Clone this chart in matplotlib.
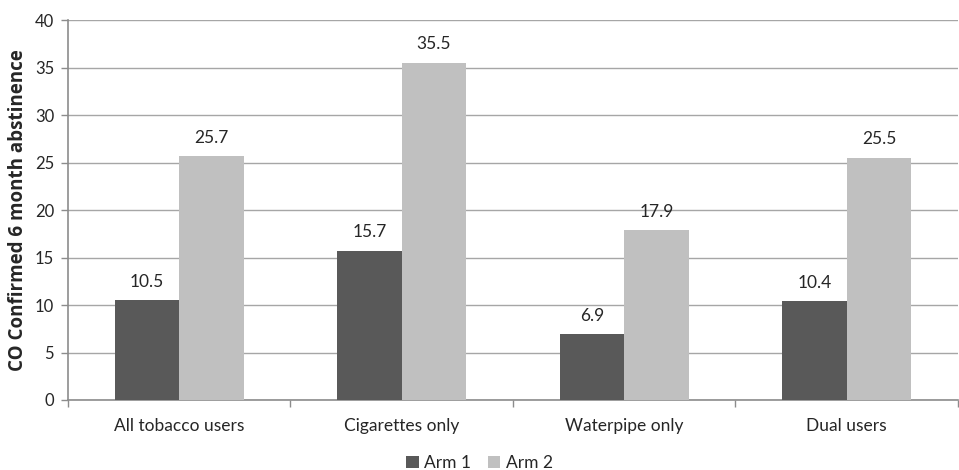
import numpy as np
import matplotlib.pyplot as plt

categories = ["All tobacco users", "Cigarettes only", "Waterpipe only", "Dual users"]
arm1 = [10.5, 15.7, 6.9, 10.4]
arm2 = [25.7, 35.5, 17.9, 25.5]
series_names = ["Arm 1", "Arm 2"]

plt.rcParams['font.family'] = ['Lato', 'DejaVu Sans']

fig = plt.figure(figsize=(9.59, 4.70), dpi=100)
ax = fig.add_axes([0.0709, 0.149, 0.928, 0.808])

x = np.arange(len(categories))
w = 0.29
grey_axis = "#8c8c8c"
text_col = "#262626"
b1 = ax.bar(x - w / 2, arm1, w, color="#595959", label=series_names[0], zorder=3)
b2 = ax.bar(x + w / 2, arm2, w, color="#c0c0c0", label=series_names[1], zorder=3)

for bars, vals in ((b1, arm1), (b2, arm2)):
    for rect, v in zip(bars, vals):
        ax.text(rect.get_x() + rect.get_width() / 2, v + 1.1, f"{v:.1f}",
                ha="center", va="bottom", fontsize=12.5, color=text_col)

ax.set_xlim(-0.5, len(categories) - 0.5)
ax.set_ylim(0, 40)
ax.set_yticks(np.arange(0, 41, 5))
ax.yaxis.grid(True, color="#a6a6a6", linewidth=1, zorder=0)
ax.set_axisbelow(True)

ax.set_xticks(x)
ax.set_xticklabels(categories)
ax.set_xticks(np.arange(-0.5, len(categories)), minor=True)
ax.tick_params(axis="x", which="major", length=0, pad=13, labelsize=12.5, labelcolor=text_col)
ax.tick_params(axis="x", which="minor", length=5, color=grey_axis, width=1)
ax.tick_params(axis="y", length=5, color=grey_axis, width=1, labelsize=12, labelcolor=text_col, pad=5)

for side in ("top", "right"):
    ax.spines[side].set_visible(False)
for side in ("left", "bottom"):
    ax.spines[side].set_color(grey_axis)
    ax.spines[side].set_linewidth(1.2)

ax.set_ylabel("CO Confirmed 6 month abstinence", fontsize=13.5, fontweight="bold",
              family=["Open Sans", "DejaVu Sans"], color=text_col, labelpad=5)

fig.legend(handles=[b1, b2], loc="lower center", bbox_to_anchor=(0.5, -0.035), ncol=2,
           frameon=False, fontsize=12.5, handlelength=0.7, handleheight=0.7,
           handletextpad=0.3, columnspacing=1.0, labelcolor=text_col)

fig.savefig("out.png", dpi=100)
